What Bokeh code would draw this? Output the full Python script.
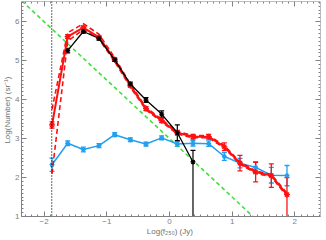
import numpy as np
from bokeh.plotting import figure
from bokeh.models import FixedTicker, LinearAxis, Whisker, ColumnDataSource, TeeHead, Span, Range1d
from bokeh.embed import file_html
from bokeh.resources import INLINE

# ---- data ----
black_x = [-1.625, -1.375, -1.125, -0.875, -0.625, -0.375, -0.125, 0.125, 0.375]
black_y = [5.26, 5.75, 5.57, 5.02, 4.40, 3.99, 3.63, 3.15, 2.40]
black_err_hi = [0.06, 0.04, 0.04, 0.04, 0.05, 0.06, 0.08, 0.20, 0.30]
black_err_lo = [0.06, 0.04, 0.04, 0.04, 0.05, 0.06, 0.08, 0.20, 2.00]

red_x = [-1.875, -1.625, -1.375, -1.125, -0.875, -0.625, -0.375, -0.125,
         0.125, 0.375, 0.625, 0.875, 1.125, 1.375, 1.625, 1.875]
red_y = [3.35, 5.62, 5.85, 5.60, 5.03, 4.36, 3.77, 3.46,
         3.15, 3.05, 3.05, 2.79, 2.37, 2.14, 2.05, 1.56]
red_err_hi = [0.08, 0.05, 0.04, 0.04, 0.04, 0.04, 0.05, 0.05,
              0.06, 0.06, 0.06, 0.10, 0.20, 0.25, 0.30, 0.44]
red_err_lo = [0.08, 0.05, 0.04, 0.04, 0.04, 0.04, 0.05, 0.05,
              0.06, 0.06, 0.06, 0.10, 0.20, 0.25, 0.30, 1.00]
red_upper = [3.75, 5.72, 5.95, 5.68, 5.08, 4.40, 3.80, 3.49,
             3.18, 3.08, 3.08, 2.82, 2.40, 2.17, 2.08, 1.60]
red_lower = [2.10, 5.50, 5.80, 5.55, 4.98, 4.32, 3.74, 3.43,
             3.12, 3.02, 3.02, 2.76, 2.34, 2.11, 2.02, 1.52]

blue_x = [-1.875, -1.625, -1.375, -1.125, -0.875, -0.625, -0.375, -0.125,
          0.125, 0.375, 0.625, 0.875, 1.125, 1.375, 1.625, 1.875]
blue_y = [2.33, 2.88, 2.72, 2.82, 3.10, 2.97, 2.86, 3.02,
          2.86, 2.88, 2.87, 2.54, 2.37, 2.26, 2.06, 2.05]
blue_err = [0.17, 0.06, 0.06, 0.05, 0.05, 0.05, 0.05, 0.05,
            0.06, 0.07, 0.07, 0.10, 0.12, 0.15, 0.20, 0.26]

green_x = [-2.6, 1.6]
green_y = [6.9, 0.6]

limit_x = -1.88

x_ticks = [-2, -1, 0, 1, 2]
y_ticks = [1, 2, 3, 4, 5, 6]

X0, X1 = -2.362, 2.41
Y0, Y1 = 1.0, 6.52

# ---- colours / styles ----
BLACK = "#000000"
RED = "#ff1010"
BLUE = "#229ff0"
GREEN = "#3ee03e"
AXC = "#808080"
FONT = "Liberation Sans"

p = figure(width=326, height=240, output_backend="svg", toolbar_location=None,
           x_range=Range1d(X0, X1), y_range=Range1d(Y0, Y1),
           min_border_left=20, min_border_right=6, min_border_top=1,
           min_border_bottom=24)
p.grid.visible = False
p.outline_line_color = None
p.background_fill_color = "white"
p.border_fill_color = "white"

minor_x = [round(v, 2) for v in np.arange(-2.3, 2.41, 0.1)]
minor_y = [round(v, 2) for v in np.arange(1.0, 6.51, 0.1)]

def style_axis(ax, labels=True):
    ax.axis_line_color = AXC
    ax.major_tick_line_color = AXC
    ax.minor_tick_line_color = AXC
    ax.major_tick_in = 5
    ax.major_tick_out = 0
    ax.minor_tick_in = 2
    ax.minor_tick_out = 0
    ax.major_label_text_font = FONT
    ax.major_label_text_font_size = "8px"
    ax.major_label_text_color = AXC
    ax.major_label_standoff = 2
    ax.axis_label_text_font = FONT
    ax.axis_label_text_font_size = "8px"
    ax.axis_label_text_font_style = "normal"
    ax.axis_label_text_color = "#707070"
    ax.axis_label_standoff = 0
    if not labels:
        ax.major_label_text_font_size = "1px"
        ax.major_label_standoff = 0
        ax.major_label_text_color = None

xt = FixedTicker(ticks=x_ticks, minor_ticks=minor_x)
yt = FixedTicker(ticks=y_ticks, minor_ticks=minor_y)

p.xaxis.ticker = xt
p.yaxis.ticker = yt
p.xaxis.major_label_overrides = {-2: "\u22122", -1: "\u22121", 0: "0", 1: "1", 2: "2"}
p.xaxis.axis_label = "Log(f\u2082\u2085\u2080)  (Jy)"
p.yaxis.axis_label = "Log(Number)  (sr\u207b\u00b9)"
style_axis(p.xaxis[0])
style_axis(p.yaxis[0])

top = LinearAxis(ticker=xt, fixed_location=Y1)
style_axis(top, labels=False)
p.add_layout(top, "above")
right = LinearAxis(ticker=yt, fixed_location=X1)
style_axis(right, labels=False)
p.add_layout(right, "right")

# vertical dotted limit
p.add_layout(Span(location=limit_x, dimension="height", line_color=BLACK,
                  line_dash="1 2", line_width=1.2))

# green model line
p.line(green_x, green_y, line_color=GREEN, line_width=1.6, line_dash="4 3")

# blue
bsrc = ColumnDataSource(dict(x=blue_x, y=blue_y,
                             up=[a + b for a, b in zip(blue_y, blue_err)],
                             lo=[a - b for a, b in zip(blue_y, blue_err)]))
p.line("x", "y", source=bsrc, line_color=BLUE, line_width=1.5)
p.add_layout(Whisker(source=bsrc, base="x", upper="up", lower="lo", line_color=BLUE,
                     line_width=1.3,
                     upper_head=TeeHead(size=5, line_color=BLUE, line_width=1.3),
                     lower_head=TeeHead(size=5, line_color=BLUE, line_width=1.3)))
p.scatter("x", "y", source=bsrc, marker="asterisk", size=5, line_color=BLUE, line_width=1.2)

# red envelope
p.line(red_x, red_upper, line_color=RED, line_width=1.6, line_dash="5 3")
p.line(red_x, red_lower, line_color=RED, line_width=1.6, line_dash="5 3")

# red
rsrc = ColumnDataSource(dict(x=red_x, y=red_y,
                             up=[a + b for a, b in zip(red_y, red_err_hi)],
                             lo=[a - b for a, b in zip(red_y, red_err_lo)]))
p.line("x", "y", source=rsrc, line_color=RED, line_width=2)
p.add_layout(Whisker(source=rsrc, base="x", upper="up", lower="lo", line_color=RED,
                     line_width=1.3,
                     upper_head=TeeHead(size=5, line_color=RED, line_width=1.3),
                     lower_head=TeeHead(size=5, line_color=RED, line_width=1.3)))
p.scatter("x", "y", source=rsrc, marker="asterisk", size=6, line_color=RED, line_width=1.3)

# black
ksrc = ColumnDataSource(dict(x=black_x, y=black_y,
                             up=[a + b for a, b in zip(black_y, black_err_hi)],
                             lo=[a - b for a, b in zip(black_y, black_err_lo)]))
p.line("x", "y", source=ksrc, line_color=BLACK, line_width=1.3)
p.add_layout(Whisker(source=ksrc, base="x", upper="up", lower="lo", line_color=BLACK,
                     line_width=1.2,
                     upper_head=TeeHead(size=5, line_color=BLACK, line_width=1.2),
                     lower_head=TeeHead(size=5, line_color=BLACK, line_width=1.2)))
p.scatter("x", "y", source=ksrc, marker="asterisk", size=5, line_color=BLACK, line_width=1.2)

open("out.html", "w").write(file_html(p, INLINE))
